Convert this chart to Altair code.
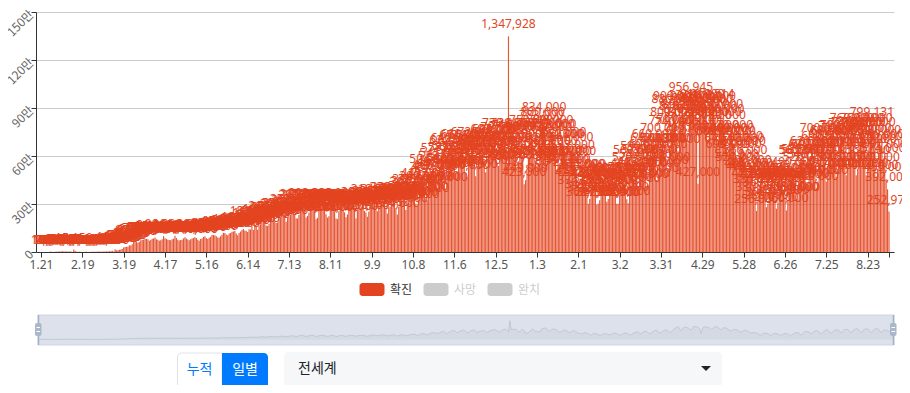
import json
import altair as alt
import pandas as pd

# ---- daily new confirmed cases (world), in thousands, Jan 21 2020 .. Sep 7 2021 ----
jan20 = [0.15, 0.10, 0.10, 0.29, 0.49, 0.68, 0.81, 2.65, 0.59, 2.07, 1.69]
feb20 = [2.11, 2.61, 2.82, 3.24, 3.91, 3.74, 3.16, 3.44, 2.67, 2.98, 2.54, 0.42, 15.15, 6.53, 2.15,
         2.21, 2.05, 1.89, 0.54, 0.63, 1.00, 1.75, 0.38, 0.57, 0.93, 0.86, 1.31, 1.56, 1.80]
mar20 = [2.4, 1.9, 2.5, 2.3, 2.8, 3.9, 4.0, 3.9, 4.0, 4.5, 7.4, 2.8, 16.5, 10.9, 11.3, 14.0, 16.0,
         19.5, 28.0, 32.0, 32.5, 33.0, 41.5, 41.0, 49.0, 62.0, 62.0, 66.0, 57.5, 62.5, 74.0]
apr20 = [77.0, 76.5, 83.0, 82.0, 79.0, 70.0, 75.0, 83.0, 85.0, 91.0, 79.0, 76.0, 70.0, 74.0, 79.0,
         99.0, 86.0, 81.0, 77.0, 75.0, 73.0, 80.0, 83.0, 101.0, 87.0, 76.0, 72.0, 75.0, 77.0, 85.0]
may20 = [92, 85, 78, 74, 79, 85, 88, 92, 88, 76, 70, 82, 85, 94, 98, 88, 81, 89, 96, 106, 106, 104,
         98, 91, 89, 98, 108, 120, 118, 110, 105]
jun20 = [116, 119, 127, 128, 132, 115, 104, 118, 128, 137, 143, 135, 132, 125, 142, 141, 181, 138,
         168, 157, 139, 165, 173, 181, 188, 193, 166, 163, 175, 212]
jul20 = [206, 206, 192, 182, 185, 211, 213, 228, 229, 229, 189, 212, 220, 233, 259, 251, 238, 211,
         209, 231, 281, 285, 283, 256, 215, 226, 246, 293, 290, 290, 280]
aug20 = [205, 213, 261, 278, 283, 288, 262, 236, 215, 224, 269, 290, 292, 254, 210, 206, 255, 277,
         277, 267, 248, 217, 235, 258, 283, 289, 274, 263, 210, 259, 264]
sep20 = [276, 283, 300, 257, 247, 221, 252, 281, 303, 316, 306, 291, 254, 297, 290, 305, 319, 303,
         275, 240, 278, 284, 329, 329, 304, 275, 234, 283, 319, 316]
oct20 = [326, 299, 262, 286, 307, 339, 364, 366, 379, 301, 288, 322, 383, 399, 419, 382, 336, 323,
         402, 417, 504, 457, 466, 460, 402, 485, 528, 545, 577, 475, 395]
nov20 = [481, 513, 583, 622, 640, 588, 497, 502, 560, 625, 654, 660, 587, 495, 470, 563, 611, 657,
         672, 608, 474, 537, 567, 620, 595, 648, 570, 498, 522, 612]
dec20 = [642, 662, 693, 695, 612, 557, 538, 622, 687, 707, 730, 640, 544, 1347.928, 653, 714, 729,
         716, 635, 530, 567, 660, 708, 605, 423, 449, 487, 594, 693, 750, 636]
jan21 = [547, 569, 537, 555, 732, 783, 800, 834, 711, 556, 623, 704, 749, 727, 728, 619, 516, 525,
         555, 664, 660, 672, 567, 497, 507, 556, 641, 592, 558, 474, 423]
feb21 = [439, 374, 455, 474, 475, 432, 349, 302, 332, 425, 421, 412, 363, 297, 302, 324, 398, 405,
         396, 362, 314, 332, 381, 450, 444, 442, 377, 301]
mar21 = [302, 357, 421, 458, 445, 413, 329, 304, 391, 454, 480, 520, 560, 430, 390, 486, 540, 590,
         570, 490, 411, 420, 540, 600, 640, 660, 570, 450, 480, 565, 640]
apr21 = [700, 640, 600, 500, 520, 640, 750, 800, 880, 900, 740, 630, 760, 840, 870, 850, 820, 710,
         680, 800, 956.945, 900, 890, 840, 750, 427, 820, 895, 910, 880]
may21 = [860, 800, 700, 780, 880, 912.514, 900, 840, 720, 680, 800, 850, 820, 780, 700, 640, 600,
         680, 720, 700, 680, 620, 540, 520, 600, 650, 640, 620, 560, 480, 460]
jun21 = [500, 480, 460, 420, 380, 256, 330, 420, 450, 440, 420, 360, 280, 300, 400, 430, 420, 400,
         350, 270, 310, 390, 420, 410, 390, 340, 260, 320, 400, 450]
jul21 = [470, 490, 430, 330, 330, 450, 560, 565, 570, 520, 410, 420, 540, 600, 620, 600, 520, 400,
         440, 560, 610, 700, 650, 560, 440, 480, 620, 660, 690, 680, 610]
aug21 = [470, 520, 650, 710, 720, 700, 600, 480, 530, 680, 730, 760, 740, 610, 480, 520, 690, 740,
         760, 740, 630, 480, 560, 700, 760, 799.131, 740, 630, 470, 520, 690]
sep21 = [650, 660, 574, 600, 455, 392, 252.973]

months = [jan20, feb20, mar20, apr20, may20, jun20, jul20, aug20, sep20, oct20, nov20, dec20,
          jan21, feb21, mar21, apr21, may21, jun21, jul21, aug21, sep21]
month_len = [11, 29, 31, 30, 31, 30, 31, 31, 30, 31, 30, 31, 31, 28, 31, 30, 31, 30, 31, 31, 7]
for m, n in zip(months, month_len):
    assert len(m) == n, (len(m), n)
values = [int(round(v * 1000)) for m in months for v in m]
N = len(values)
assert N == 596

x_tick_labels = ["1.21", "2.19", "3.19", "4.17", "5.16", "6.14", "7.13", "8.11", "9.9", "10.8",
                 "11.6", "12.5", "1.3", "2.1", "3.2", "3.31", "4.29", "5.28", "6.26", "7.25", "8.23"]
x_tick_step = 29
y_tick_values = [0, 300000, 600000, 900000, 1200000, 1500000]
y_tick_labels = ["0", "30만", "60만", "90만", "120만", "150만"]
legend_labels = ["확진", "사망", "완치"]
legend_active = [True, False, False]
mode_buttons = ["누적", "일별"]
region_name = "전세계"

RED = "#e3441f"
W, H = 858, 240
NUMFONT = "Noto Sans"
KRFONT = "Noto Sans CJK KR"

df = pd.DataFrame({"i": list(range(N)), "v": values})
base = alt.Chart(df)

x_vals = list(range(0, N, x_tick_step)) + [N - 1]
x_expr = ("datum.value % " + str(x_tick_step) + " == 0 ? "
          + json.dumps(x_tick_labels) + "[datum.value / " + str(x_tick_step) + "] : ''")
y_expr = json.dumps(y_tick_labels, ensure_ascii=False) + "[datum.value / 300000]"

xs = alt.Scale(domain=[0, N - 1], nice=False, zero=False)
ys = alt.Scale(domain=[0, 1500000], nice=False)

bars = base.mark_bar(size=1.15, color=RED, opacity=0.9).encode(
    x=alt.X("i:Q", scale=xs, axis=alt.Axis(
        values=x_vals, labelExpr=x_expr, title=None, grid=False, labelFlush=False,
        labelOverlap=False, domainColor="#333", tickColor="#333", tickSize=5,
        labelColor="#555", labelFontSize=12, labelFont=NUMFONT, labelPadding=2)),
    y=alt.Y("v:Q", scale=ys, axis=alt.Axis(
        values=y_tick_values, labelExpr=y_expr, title=None, grid=True, gridColor="#cccccc",
        domainColor="#333", tickColor="#333", tickSize=5, labelAngle=315, labelAlign="right",
        labelBaseline="middle", labelColor="#666", labelFontSize=12, labelFont=KRFONT,
        labelPadding=0, labelFlush=False, labelOverlap=False)),
)
labels = base.mark_text(color=RED, fontSize=12, font=NUMFONT, baseline="bottom", dy=-5).encode(
    x=alt.X("i:Q", scale=xs),
    y=alt.Y("v:Q", scale=ys),
    text=alt.Text("v:Q", format=","),
)
main = alt.layer(bars, labels)

# ---- data-zoom slider (shadow of the same series) ----
vmin, vmax = min(values), max(values)
off = (vmax - vmin) * 0.3
one = pd.DataFrame({"k": [0]})
slider_bg = alt.Chart(one).mark_rect(fill="#dce1eb", stroke="#cfd6e2", strokeWidth=1).encode(
    x=alt.value(2), x2=alt.value(858), y=alt.value(303), y2=alt.value(333))
slider_area = base.mark_area(color="#d0d6e0", line={"color": "#bcc3ce", "strokeWidth": 0.8}).encode(
    x=alt.X("i:Q", scale=alt.Scale(domain=[0, N - 1], range=[2, 858], nice=False, zero=False), axis=None),
    y=alt.Y("v:Q", scale=alt.Scale(domain=[vmin - off, vmax + off], range=[333, 303], nice=False,
                                   zero=False), axis=None),
    y2=alt.value(333),
)
edges = pd.DataFrame({"px": [2.5, 857.5]})
slider_edges = alt.Chart(edges).mark_rule(color="#a3b0c6", strokeWidth=1.5).encode(
    x=alt.X("px:Q", scale=None), y=alt.value(303), y2=alt.value(333))
handles = pd.DataFrame({"a": [-1.0, 854.0], "b": [5.5, 860.5]})
slider_handles = alt.Chart(handles).mark_rect(fill="#aab6ca", cornerRadius=2).encode(
    x=alt.X("a:Q", scale=None), x2="b:Q", y=alt.value(311), y2=alt.value(324))
hl = pd.DataFrame({"a": [0.5, 0.5, 855.5, 855.5], "b": [4.0, 4.0, 859.0, 859.0],
                   "y": [315.5, 319.5, 315.5, 319.5]})
handle_lines = alt.Chart(hl).mark_rule(color="white", strokeWidth=1).encode(
    x=alt.X("a:Q", scale=None), x2="b:Q", y=alt.Y("y:Q", scale=None))

# ---- legend (below plot) ----
leg = pd.DataFrame({
    "name": legend_labels,
    "x0": [323.5, 387.5, 451.5], "x1": [348.5, 412.5, 476.5], "tx": [354, 418, 482],
    "sw": [RED if a else "#cccccc" for a in legend_active],
    "tc": ["#333333" if a else "#cccccc" for a in legend_active],
})
leg_rect = alt.Chart(leg).mark_rect(cornerRadius=3).encode(
    x=alt.X("x0:Q", scale=None), x2="x1:Q", y=alt.value(271), y2=alt.value(284),
    color=alt.Color("sw:N", scale=None))
leg_text = alt.Chart(leg).mark_text(align="left", baseline="middle", fontSize=12, font=KRFONT).encode(
    x=alt.X("tx:Q", scale=None), y=alt.value(277.5), text="name:N",
    color=alt.Color("tc:N", scale=None))

# ---- controls under the chart ----
btn_left = alt.Chart(one).mark_rect(fill="white", stroke="#dee2e6", strokeWidth=1,
                                    cornerRadiusTopLeft=4, cornerRadiusBottomLeft=4).encode(
    x=alt.value(141.5), x2=alt.value(186), y=alt.value(341), y2=alt.value(376))
btn_right = alt.Chart(one).mark_rect(fill="#007bff", cornerRadiusTopRight=4,
                                     cornerRadiusBottomRight=4).encode(
    x=alt.value(186), x2=alt.value(232), y=alt.value(341), y2=alt.value(376))
btns = pd.DataFrame({"t": mode_buttons, "x": [163.5, 209], "c": ["#007bff", "#ffffff"]})
btn_text = alt.Chart(btns).mark_text(fontSize=14, font=KRFONT, baseline="middle").encode(
    x=alt.X("x:Q", scale=None), y=alt.value(358), text="t:N", color=alt.Color("c:N", scale=None))
dropdown = alt.Chart(one).mark_rect(fill="#f6f7f9", cornerRadius=4).encode(
    x=alt.value(248), x2=alt.value(686), y=alt.value(340), y2=alt.value(375))
dd_text = alt.Chart(pd.DataFrame({"t": [region_name]})).mark_text(
    fontSize=14, font=KRFONT, align="left", baseline="middle", color="#212529").encode(
    x=alt.value(262), y=alt.value(357), text="t:N")
dd_arrow = alt.Chart(one).mark_point(shape="M-1,-0.5L1,-0.5L0,0.5Z", filled=True, size=100,
                                     color="#222222", opacity=1).encode(
    x=alt.value(670), y=alt.value(356.5))

chart = alt.layer(
    main, slider_bg, slider_area, slider_edges, slider_handles, handle_lines,
    leg_rect, leg_text, btn_left, btn_right, btn_text, dropdown, dd_text, dd_arrow,
).resolve_scale(x="independent", y="independent").properties(
    width=W, height=H,
    autosize=alt.AutoSizeParams(type="none"),
    padding={"left": 28, "top": 4, "right": 8, "bottom": 133},
).configure_view(stroke=None)

chart.save("out.html", embed_options={"renderer": "svg", "actions": False})
